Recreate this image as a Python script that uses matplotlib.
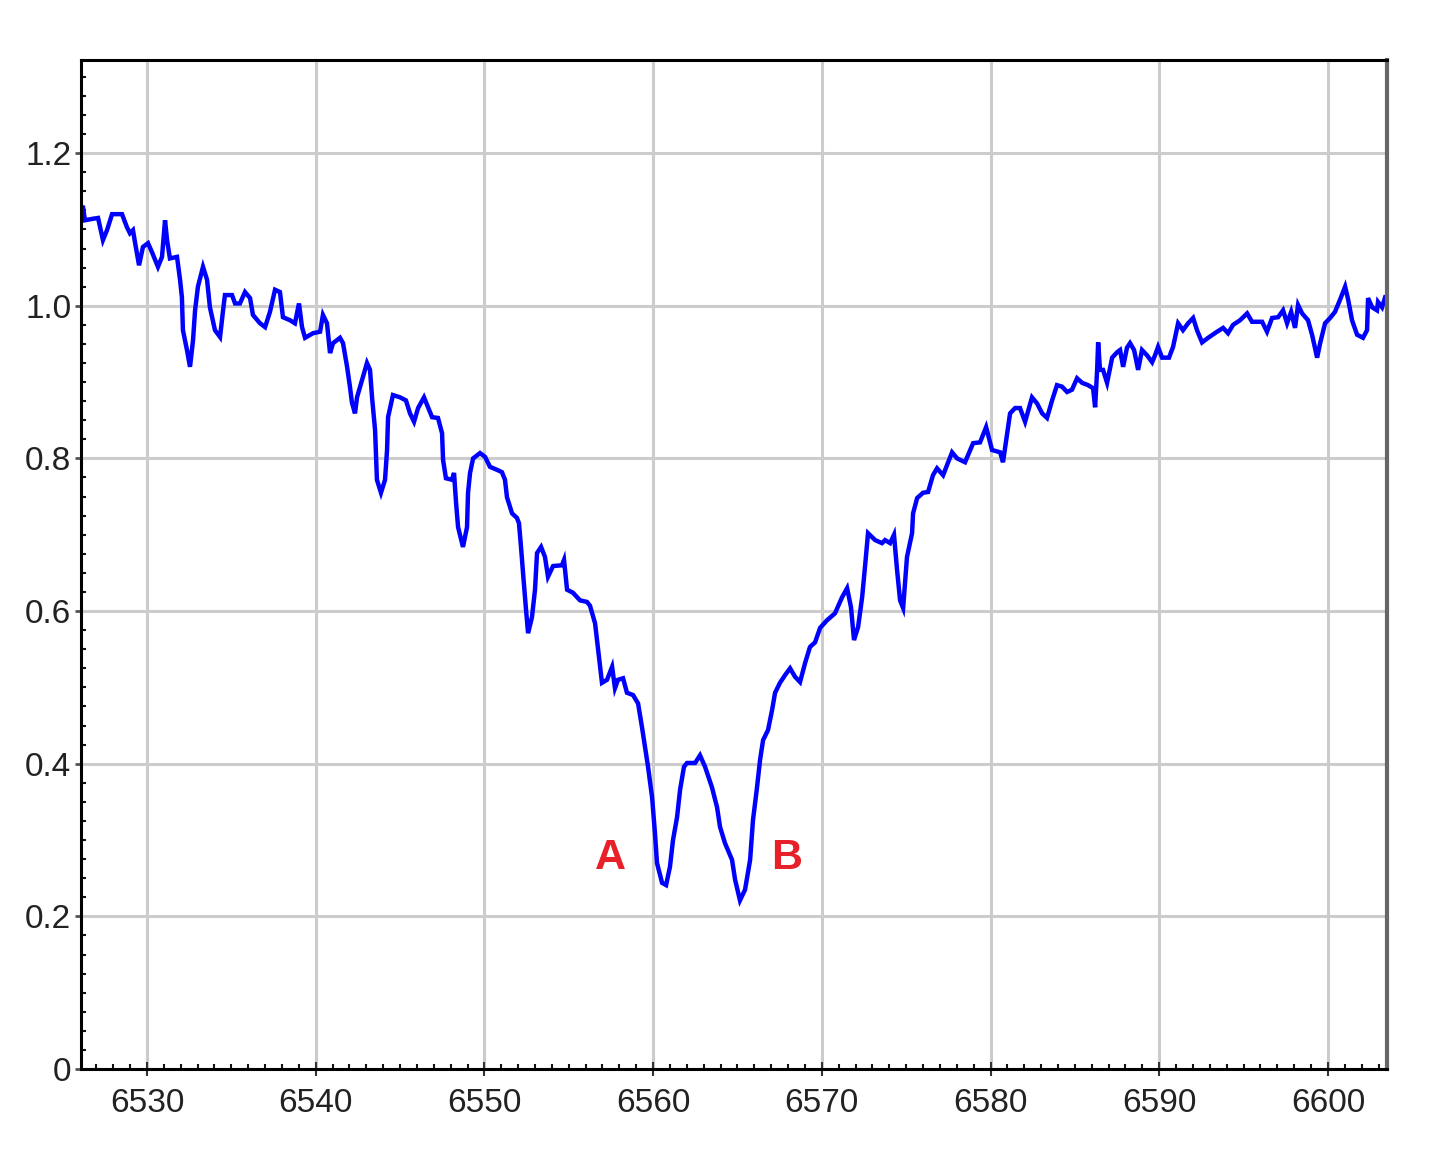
import numpy as np
import matplotlib
matplotlib.use("Agg")
from matplotlib import pyplot as plt
from matplotlib.ticker import MultipleLocator, FormatStrFormatter

# wavelength (Angstrom) and relative flux
wavelength = [
    6526.10, 6526.21, 6526.32, 6526.80, 6527.10, 6527.39, 6527.63, 6527.93, 6528.52, 6528.81,
    6528.99, 6529.17, 6529.29, 6529.53, 6529.76, 6530.06, 6530.30, 6530.65, 6530.89, 6531.07,
    6531.19, 6531.36, 6531.78, 6531.96, 6532.07, 6532.13, 6532.37, 6532.55, 6532.73, 6532.85,
    6533.02, 6533.32, 6533.56, 6533.73, 6534.03, 6534.33, 6534.51, 6534.62, 6535.04, 6535.22,
    6535.51, 6535.81, 6536.11, 6536.28, 6536.70, 6537.00, 6537.29, 6537.59, 6537.88, 6538.06,
    6538.48, 6538.77, 6539.01, 6539.19, 6539.37, 6539.84, 6540.26, 6540.43, 6540.67, 6540.85,
    6541.03, 6541.44, 6541.62, 6541.86, 6542.03, 6542.15, 6542.33, 6542.45, 6542.75, 6543.04,
    6543.22, 6543.34, 6543.52, 6543.63, 6543.87, 6544.11, 6544.23, 6544.29, 6544.58, 6545.00,
    6545.35, 6545.59, 6545.83, 6546.07, 6546.42, 6546.66, 6546.90, 6547.25, 6547.49, 6547.55,
    6547.72, 6548.08, 6548.20, 6548.32, 6548.44, 6548.73, 6548.97, 6549.03, 6549.15, 6549.33,
    6549.74, 6550.04, 6550.33, 6550.75, 6551.04, 6551.22, 6551.34, 6551.64, 6551.93, 6552.05,
    6552.17, 6552.29, 6552.47, 6552.59, 6552.82, 6553.00, 6553.12, 6553.36, 6553.59, 6553.77,
    6554.07, 6554.60, 6554.72, 6554.90, 6555.25, 6555.67, 6556.08, 6556.26, 6556.56, 6556.74,
    6556.97, 6557.27, 6557.57, 6557.74, 6557.92, 6558.22, 6558.45, 6558.81, 6559.11, 6559.34,
    6559.52, 6559.70, 6559.94, 6560.11, 6560.23, 6560.53, 6560.77, 6561.00, 6561.18, 6561.42,
    6561.60, 6561.83, 6562.01, 6562.49, 6562.78, 6563.08, 6563.49, 6563.79, 6563.97, 6564.26,
    6564.68, 6564.86, 6565.15, 6565.45, 6565.75, 6565.92, 6566.16, 6566.34, 6566.52, 6566.81,
    6567.05, 6567.23, 6567.52, 6567.82, 6568.12, 6568.41, 6568.71, 6569.01, 6569.30, 6569.60,
    6569.90, 6570.31, 6570.78, 6571.20, 6571.50, 6571.73, 6571.91, 6572.15, 6572.39, 6572.56,
    6572.74, 6573.16, 6573.57, 6573.75, 6574.05, 6574.28, 6574.46, 6574.64, 6574.82, 6575.05,
    6575.35, 6575.41, 6575.65, 6576.00, 6576.30, 6576.59, 6576.83, 6577.19, 6577.42, 6577.72,
    6578.02, 6578.49, 6578.97, 6579.38, 6579.74, 6580.09, 6580.57, 6580.74, 6581.16, 6581.46,
    6581.75, 6582.05, 6582.46, 6582.76, 6583.06, 6583.35, 6583.65, 6583.94, 6584.24, 6584.54,
    6584.83, 6585.13, 6585.43, 6585.78, 6586.08, 6586.20, 6586.32, 6586.38, 6586.49, 6586.67,
    6586.91, 6587.21, 6587.50, 6587.68, 6587.86, 6588.09, 6588.27, 6588.51, 6588.75, 6588.98,
    6589.28, 6589.58, 6589.75, 6589.93, 6590.17, 6590.58, 6590.82, 6591.12, 6591.41, 6591.71,
    6592.01, 6592.24, 6592.54, 6592.90, 6593.43, 6593.79, 6594.08, 6594.38, 6594.79, 6595.21,
    6595.50, 6596.10, 6596.39, 6596.69, 6597.05, 6597.34, 6597.58, 6597.82, 6598.05, 6598.23,
    6598.47, 6598.82, 6599.06, 6599.36, 6599.54, 6599.83, 6600.13, 6600.42, 6600.72, 6601.02,
    6601.20, 6601.43, 6601.73, 6602.08, 6602.32, 6602.38, 6602.62, 6602.91, 6602.97, 6603.21,
    6603.39,
]
flux = [
    1.130, 1.129, 1.112, 1.114, 1.115, 1.086, 1.099, 1.120, 1.120, 1.103,
    1.095, 1.099, 1.083, 1.053, 1.077, 1.082, 1.070, 1.051, 1.064, 1.112,
    1.086, 1.062, 1.064, 1.034, 1.011, 0.968, 0.942, 0.920, 0.955, 0.994,
    1.025, 1.051, 1.034, 0.998, 0.968, 0.959, 0.994, 1.014, 1.014, 1.003,
    1.003, 1.018, 1.010, 0.988, 0.977, 0.972, 0.992, 1.021, 1.018, 0.985,
    0.981, 0.977, 1.003, 0.972, 0.958, 0.964, 0.966, 0.988, 0.977, 0.938,
    0.951, 0.958, 0.951, 0.920, 0.894, 0.873, 0.859, 0.880, 0.903, 0.925,
    0.916, 0.880, 0.837, 0.772, 0.755, 0.772, 0.811, 0.854, 0.883, 0.880,
    0.876, 0.859, 0.848, 0.866, 0.880, 0.867, 0.854, 0.853, 0.833, 0.798,
    0.774, 0.772, 0.781, 0.742, 0.710, 0.684, 0.710, 0.755, 0.781, 0.800,
    0.807, 0.802, 0.789, 0.785, 0.782, 0.772, 0.749, 0.728, 0.722, 0.715,
    0.684, 0.650, 0.601, 0.571, 0.592, 0.628, 0.676, 0.684, 0.671, 0.645,
    0.659, 0.660, 0.667, 0.628, 0.624, 0.614, 0.612, 0.607, 0.584, 0.550,
    0.506, 0.510, 0.527, 0.499, 0.510, 0.512, 0.493, 0.490, 0.479, 0.448,
    0.422, 0.396, 0.356, 0.309, 0.270, 0.244, 0.241, 0.265, 0.300, 0.330,
    0.366, 0.396, 0.401, 0.401, 0.411, 0.396, 0.369, 0.343, 0.317, 0.296,
    0.274, 0.248, 0.221, 0.235, 0.274, 0.326, 0.369, 0.405, 0.431, 0.444,
    0.470, 0.493, 0.506, 0.516, 0.525, 0.514, 0.507, 0.532, 0.553, 0.559,
    0.578, 0.588, 0.597, 0.618, 0.630, 0.605, 0.562, 0.579, 0.618, 0.658,
    0.702, 0.693, 0.689, 0.693, 0.689, 0.700, 0.654, 0.614, 0.604, 0.671,
    0.702, 0.728, 0.748, 0.755, 0.756, 0.778, 0.787, 0.778, 0.791, 0.808,
    0.800, 0.795, 0.820, 0.821, 0.841, 0.811, 0.808, 0.795, 0.859, 0.866,
    0.866, 0.848, 0.880, 0.872, 0.859, 0.853, 0.876, 0.896, 0.894, 0.887,
    0.890, 0.905, 0.899, 0.896, 0.892, 0.867, 0.916, 0.952, 0.916, 0.916,
    0.899, 0.932, 0.939, 0.942, 0.920, 0.945, 0.951, 0.942, 0.916, 0.942,
    0.935, 0.926, 0.935, 0.946, 0.932, 0.932, 0.946, 0.977, 0.968, 0.977,
    0.984, 0.968, 0.952, 0.958, 0.966, 0.971, 0.964, 0.975, 0.981, 0.990,
    0.979, 0.979, 0.966, 0.984, 0.985, 0.994, 0.977, 0.992, 0.971, 1.001,
    0.990, 0.981, 0.962, 0.932, 0.951, 0.977, 0.984, 0.992, 1.008, 1.025,
    1.008, 0.981, 0.962, 0.958, 0.968, 1.010, 0.998, 0.994, 1.005, 0.998,
    1.011,
]

# labels for the two absorption minima
peak_labels = ["A", "B"]
peak_x = [6557.45, 6567.94]
peak_y = [0.276, 0.276]

plt.rcParams['font.family'] = ['Liberation Sans', 'DejaVu Sans']

fig = plt.figure(figsize=(14.34, 11.51), dpi=100)
ax = fig.add_axes([0.0565, 0.0712, 0.9107, 0.8767])

ax.plot(wavelength, flux, color='#0000ff', linewidth=3.2, solid_joinstyle='miter')

for lab, xx, yy in zip(peak_labels, peak_x, peak_y):
    ax.text(xx, yy, lab, color='#e8202a', fontsize=31, fontweight='bold',
            ha='center', va='center')

ax.set_xlim(6526.09, 6603.5)
ax.set_ylim(0, 1.322)

ax.xaxis.set_major_locator(MultipleLocator(10))
ax.xaxis.set_minor_locator(MultipleLocator(1))
ax.yaxis.set_major_locator(MultipleLocator(0.2))
ax.yaxis.set_minor_locator(MultipleLocator(0.025))
ax.yaxis.set_major_formatter(FormatStrFormatter('%.1f'))
ax.set_yticks(np.arange(0, 1.21, 0.2))
ax.set_yticklabels(['0', '0.2', '0.4', '0.6', '0.8', '1.0', '1.2'])

ax.grid(True, which='major', color='#cccccc', linewidth=2.2)
ax.set_axisbelow(True)

ax.tick_params(axis='x', which='major', direction='inout', length=10, width=1.5,
               color='#333333', labelsize=24, labelcolor='#222222', pad=9)
ax.tick_params(axis='y', which='major', direction='out', length=4, width=2,
               color='#555555', labelsize=24, labelcolor='#222222', pad=3)
ax.tick_params(which='minor', direction='in', length=3.5, width=1.5, color='#111111')

for side in ['left', 'bottom', 'top']:
    ax.spines[side].set_color('#000000')
    ax.spines[side].set_linewidth(2.2)
ax.spines['right'].set_color('#666666')
ax.spines['right'].set_linewidth(3)

plt.savefig('out.png', dpi=100)
